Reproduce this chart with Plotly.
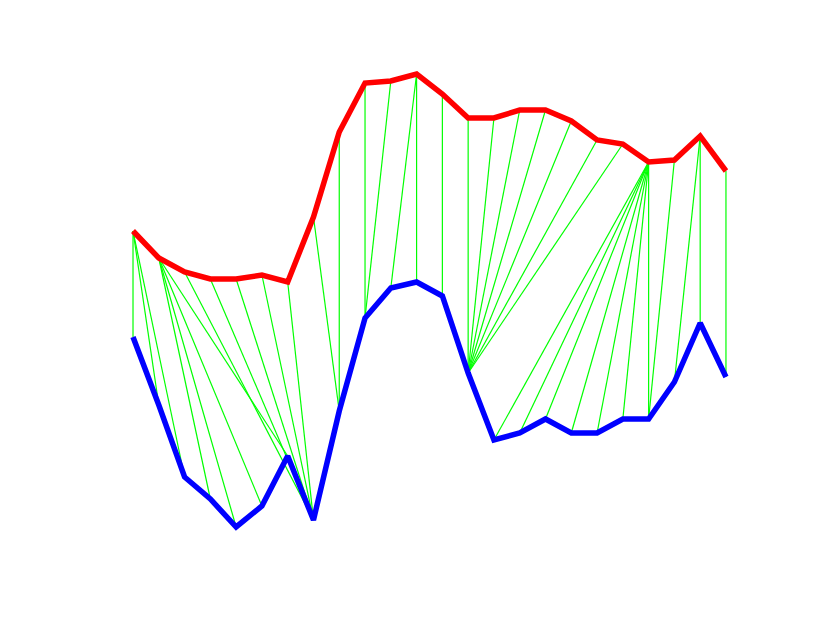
import plotly.graph_objects as go

# two series, aligned by a warping path
idx = list(range(1, 25))
red_vals = [3.69, 3.42, 3.28, 3.21, 3.21, 3.25, 3.18, 3.83, 4.68, 5.17, 5.19, 5.26,
            5.06, 4.82, 4.82, 4.90, 4.90, 4.79, 4.60, 4.56, 4.38, 4.40, 4.64, 4.29]
blue_vals = [2.63, 1.95, 1.23, 1.01, 0.73, 0.94, 1.44, 0.80, 1.89, 2.82, 3.12, 3.18,
             3.04, 2.27, 1.60, 1.67, 1.81, 1.67, 1.67, 1.81, 1.81, 2.18, 2.77, 2.23]

# warping path (0-based index into red, index into blue)
path_red = [0, 0, 0, 1, 1, 1, 1, 2, 3, 4, 5, 6, 7, 8, 9, 10, 11, 11, 12, 13, 14, 15,
            16, 17, 18, 19, 20, 20, 20, 20, 20, 20, 20, 21, 22, 22, 23]
path_blue = [0, 1, 2, 3, 4, 5, 6, 7, 7, 7, 7, 7, 8, 8, 9, 9, 10, 11, 12, 13, 13, 13,
             13, 13, 13, 13, 14, 15, 16, 17, 18, 19, 20, 20, 21, 22, 23]

gx, gy = [], []
for i, j in zip(path_red, path_blue):
    gx += [idx[i], idx[j], None]
    gy += [red_vals[i], blue_vals[j], None]

fig = go.Figure()

fig.add_trace(go.Scatter(
    x=gx, y=gy, mode='lines',
    line=dict(color='#00ff00', width=1.2),
    showlegend=False, hoverinfo='skip'
))
fig.add_trace(go.Scatter(
    x=idx, y=red_vals, mode='lines',
    line=dict(color='#ff0000', width=5.5),
    showlegend=False
))
fig.add_trace(go.Scatter(
    x=idx, y=blue_vals, mode='lines',
    line=dict(color='#0000ff', width=5.5),
    showlegend=False
))

fig.update_layout(
    width=830, height=623,
    paper_bgcolor='white',
    plot_bgcolor='white',
    margin=dict(t=0, b=0, l=0, r=0),
    xaxis=dict(range=[-3.849, 28.346], visible=False),
    yaxis=dict(range=[-0.31, 5.92], visible=False),
)

fig.write_html("out.html")
